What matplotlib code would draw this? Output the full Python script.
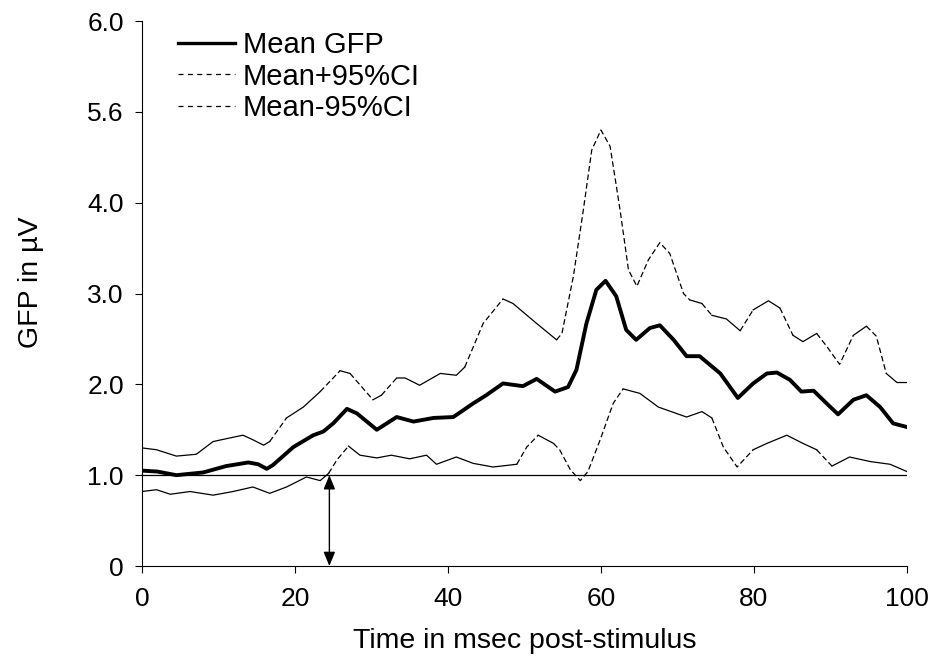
import numpy as np
import matplotlib
matplotlib.use("Agg")
import matplotlib.pyplot as plt
from matplotlib.lines import Line2D

plt.rcParams["font.family"] = ["Liberation Sans", "DejaVu Sans"]

# -----------------------------------------------------------------------------
# Dados (tempo em ms pós-estímulo, GFP em µV)
# -----------------------------------------------------------------------------
t_media = [0, 2, 4.5, 8, 11, 13.9, 15.2, 16.3, 17.1, 19.8, 22.4, 23.7, 25,
           26.8, 28.1, 30.7, 33.3, 35.5, 38.1, 40.7, 43.3, 45, 47.2, 49.8,
           51.6, 54.0, 55.7, 56.8, 58.1, 59.4, 60.6, 62.0, 63.3, 64.6, 66.4,
           67.7, 69.5, 71.2, 72.9, 75.6, 77.9, 79.9, 81.7, 83.0, 84.7, 86.2,
           87.8, 89.5, 91.0, 93.0, 94.7, 96.5, 98.2, 100]
gfp_media = [1.05, 1.04, 1.00, 1.03, 1.10, 1.14, 1.12, 1.07, 1.11, 1.31, 1.44,
             1.48, 1.57, 1.73, 1.68, 1.50, 1.64, 1.59, 1.63, 1.64, 1.79, 1.88,
             2.01, 1.98, 2.06, 1.92, 1.97, 2.16, 2.67, 3.04, 3.14, 2.97, 2.60,
             2.49, 2.62, 2.65, 2.49, 2.31, 2.31, 2.12, 1.85, 2.01, 2.12, 2.13,
             2.05, 1.92, 1.93, 1.79, 1.67, 1.83, 1.88, 1.75, 1.57, 1.53]

t_sup = [0, 1.9, 4.5, 7.1, 9.3, 11.5, 13.2, 14.5, 15.9, 16.7, 18.9, 21.1,
         23.3, 25.9, 27.2, 30.2, 31.3, 33.3, 34.4, 36.3, 39, 41.1, 42.2, 44.6,
         47.2, 48.5, 51.6, 54.2, 54.9, 56.4, 57.7, 58.8, 60.0, 61.2, 62.5,
         63.6, 64.7, 66.2, 67.7, 69.0, 70.8, 71.6, 73.2, 74.5, 76.4, 78.2,
         79.9, 81.9, 83.4, 85.1, 86.4, 88.2, 89.5, 91.2, 93.0, 94.7, 96.0,
         97.3, 98.7, 100]
ic_sup = [1.30, 1.28, 1.21, 1.23, 1.37, 1.41, 1.44, 1.39, 1.33, 1.37, 1.63,
          1.75, 1.92, 2.15, 2.12, 1.83, 1.88, 2.07, 2.07, 1.99, 2.12, 2.10,
          2.19, 2.67, 2.94, 2.89, 2.67, 2.49, 2.56, 3.19, 3.92, 4.58, 4.80,
          4.62, 3.92, 3.26, 3.08, 3.37, 3.56, 3.44, 3.00, 2.93, 2.89, 2.76,
          2.72, 2.59, 2.82, 2.92, 2.84, 2.54, 2.47, 2.56, 2.42, 2.22, 2.54,
          2.64, 2.53, 2.12, 2.02, 2.02]

t_inf = [0, 1.9, 3.7, 6.3, 9.3, 11.9, 14.5, 16.7, 18.9, 21.5, 23.3, 24.4,
         25.5, 27, 28.5, 30.7, 32.6, 35, 37.2, 38.5, 41.1, 43.3, 45.9, 49,
         50.3, 51.8, 53.8, 54.6, 56, 57.3, 58.3, 59.9, 61.6, 62.9, 65.1, 67.5,
         71.2, 73.2, 74.5, 76.0, 77.8, 79.9, 81.7, 84.3, 86.4, 88.2, 90.2,
         92.5, 95.2, 97.8, 100]
ic_inf = [0.82, 0.84, 0.79, 0.82, 0.78, 0.82, 0.87, 0.80, 0.87, 0.98, 0.94,
          1.02, 1.17, 1.32, 1.22, 1.19, 1.22, 1.18, 1.22, 1.12, 1.20, 1.13,
          1.09, 1.12, 1.31, 1.44, 1.35, 1.28, 1.06, 0.94, 1.04, 1.39, 1.79,
          1.95, 1.90, 1.75, 1.64, 1.70, 1.63, 1.31, 1.09, 1.28, 1.35, 1.44,
          1.35, 1.28, 1.10, 1.20, 1.15, 1.12, 1.04]

rotulos_legenda = ["Mean GFP", "Mean+95%CI", "Mean-95%CI"]
y_ticks = [0, 1, 2, 3, 4, 5, 6]
y_rotulos = ["0", "1.0", "2.0", "3.0", "4.0", "5.6", "6.0"]
x_ticks = [0, 20, 40, 60, 80, 100]
linha_base = 1.0     # nível de referência (linha horizontal)
t_seta = 24.5        # latência marcada pela seta

TRACO_IC = (0, (4.5, 2.4))


def linha_ic(ax, t, v, limiar=1.0):
    """
    Desenha a curva do intervalo de confiança: contínua nos trechos planos
    e tracejada nos trechos íngremes (como no gráfico original).
    """
    pts = np.column_stack([t, v])
    px = ax.transData.transform(pts)
    d = np.diff(px, axis=0)
    ingreme = np.abs(d[:, 1]) > limiar * np.abs(d[:, 0])

    inicio = 0
    for i in range(1, len(ingreme) + 1):
        if i == len(ingreme) or ingreme[i] != ingreme[inicio]:
            trecho = pts[inicio:i + 1]
            estilo = TRACO_IC if ingreme[inicio] else "-"
            ax.plot(trecho[:, 0], trecho[:, 1], color="k", lw=0.9,
                    ls=estilo, solid_joinstyle="round", zorder=2)
            inicio = i


fig = plt.figure(figsize=(9.37, 6.63), dpi=100)
ax = fig.add_axes([0.1515, 0.1463, 0.8164, 0.822])
ax.set_xlim(x_ticks[0], x_ticks[-1])
ax.set_ylim(y_ticks[0], y_ticks[-1])

# Curvas
ax.plot(t_media, gfp_media, color="k", lw=2.8, solid_joinstyle="round",
        zorder=3)
linha_ic(ax, t_sup, ic_sup)
linha_ic(ax, t_inf, ic_inf)

# Linha de referência e seta
ax.plot([x_ticks[0], x_ticks[-1]], [linha_base, linha_base], color="k",
        lw=0.9, zorder=1)
ax.annotate("", xy=(t_seta, 0), xytext=(t_seta, linha_base),
            arrowprops=dict(arrowstyle="<|-|>,head_length=0.85,head_width=0.35",
                            color="k", lw=1.0, shrinkA=0, shrinkB=0,
                            mutation_scale=10))

# Eixos
for lado in ["top", "right"]:
    ax.spines[lado].set_visible(False)
for lado in ["left", "bottom"]:
    ax.spines[lado].set_linewidth(0.8)

ax.set_xticks(x_ticks)
ax.set_xticklabels([str(v) for v in x_ticks])
ax.set_yticks(y_ticks)
ax.set_yticklabels(y_rotulos)
ax.tick_params(axis="both", direction="out", length=5, width=0.8,
               labelsize=19)
ax.tick_params(axis="x", pad=10)
ax.tick_params(axis="y", pad=8)

ax.set_xlabel("Time in msec post-stimulus", fontsize=20.5)
ax.xaxis.set_label_coords(0.5, -0.113)
ax.set_ylabel("GFP in µV", fontsize=20.5)
ax.yaxis.set_label_coords(-0.128, 0.521)

# Legenda
alcas = [Line2D([], [], color="k", lw=2.4),
         Line2D([], [], color="k", lw=0.9, ls=(0, (4, 3.5))),
         Line2D([], [], color="k", lw=0.9, ls=(0, (4, 3.5)))]
ax.legend(alcas, rotulos_legenda, loc="upper left",
          bbox_to_anchor=(0.047, 0.982), frameon=False, fontsize=21,
          handlelength=1.95, handletextpad=0.27, labelspacing=0.13,
          borderpad=0, borderaxespad=0)

fig.savefig("out.png", dpi=100)
